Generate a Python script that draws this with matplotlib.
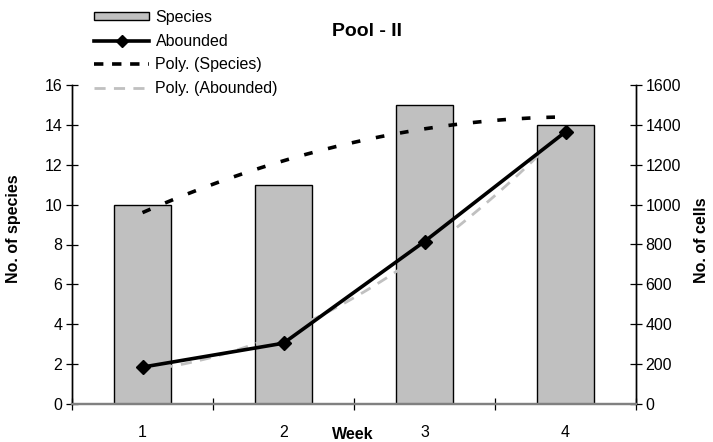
import numpy as np
import matplotlib.pyplot as plt
from matplotlib.patches import Rectangle
from matplotlib.lines import Line2D

plt.rcParams['font.family'] = ['Liberation Sans', 'DejaVu Sans']

weeks = ["1", "2", "3", "4"]
species = [10, 11, 15, 14]
abounded = [185, 305, 815, 1365]
species_ticks = [0, 2, 4, 6, 8, 10, 12, 14, 16]
cells_ticks = [0, 200, 400, 600, 800, 1000, 1200, 1400, 1600]

x = np.arange(1, len(weeks) + 1)

# second-order polynomial trendlines
xs = np.linspace(1, len(weeks), 200)
poly_species = np.polyval(np.polyfit(x, species, 2), xs)
poly_abounded = np.polyval(np.polyfit(x, abounded, 2), xs)

fig = plt.figure(figsize=(7.13, 4.42), dpi=100)
ax = fig.add_axes([72 / 713, 1 - 404 / 442, 564 / 713, 319 / 442])
ax2 = ax.twinx()

fs = 11.5
ax.bar(x, species, width=0.4, color='#c0c0c0', edgecolor='black', linewidth=1.0, zorder=2)
ax.plot(xs, poly_species, color='black', linewidth=2.6, dashes=(2.4, 4.4), zorder=4)

ax2.plot(xs, poly_abounded, color='#c0c0c0', linewidth=2.0, dashes=(4, 3), zorder=2)
ax2.plot(x, abounded, color='black', linewidth=2.6, marker='D', markersize=7, zorder=3)

ax.set_xlim(0.5, 4.5)
ax.set_ylim(0, 16)
ax2.set_ylim(0, 1600)
ax.set_yticks(species_ticks)
ax2.set_yticks(cells_ticks)

ax.set_xticks(x)
ax.set_xticklabels(weeks, fontsize=fs)
ax.set_xticks(np.arange(0.5, 4.6, 1.0), minor=True)
ax.tick_params(axis='x', which='major', length=0, pad=15)
ax.tick_params(axis='x', which='minor', direction='inout', length=8, width=0.9)
ax.tick_params(axis='y', direction='inout', length=8, width=0.9, labelsize=fs, pad=3)
ax2.tick_params(axis='y', direction='inout', length=8, width=0.9, labelsize=fs, pad=3)

for a in (ax, ax2):
    a.spines['top'].set_visible(False)
    a.spines['bottom'].set_color('#808080')
    a.spines['bottom'].set_linewidth(1.6)
    a.spines['left'].set_linewidth(1.0)
    a.spines['right'].set_linewidth(1.0)
    a.patch.set_visible(False)

ax.set_xlabel('Week', fontsize=fs, fontweight='bold')
ax.xaxis.set_label_coords(0.497, -0.072)
ax.set_ylabel('No. of species', fontsize=fs, fontweight='bold')
ax.yaxis.set_label_coords(-0.09, 0.55)
ax2.set_ylabel('No. of cells', fontsize=fs, fontweight='bold')
ax2.yaxis.set_label_coords(1.103, 0.515)

fig.text(367 / 713, 1 - 32 / 442, 'Pool - II', fontsize=14, fontweight='bold',
         ha='center', va='center')

handles = [
    Rectangle((0, 0), 1, 1, facecolor='#c0c0c0', edgecolor='black', linewidth=1.0),
    Line2D([], [], color='black', linewidth=2.6, marker='D', markersize=6),
    Line2D([], [], color='black', linewidth=2.6, dashes=(2.6, 2.4)),
    Line2D([], [], color='#c0c0c0', linewidth=2.0, dashes=(4, 3)),
]
labels = ['Species', 'Abounded', 'Poly. (Species)', 'Poly. (Abounded)']
fig.legend(handles, labels, loc='upper left', bbox_to_anchor=(94 / 713, 1 - 10 / 442),
           frameon=False, fontsize=fs, handlelength=3.45, handleheight=0.4,
           handletextpad=0.4, labelspacing=0.54, borderaxespad=0, borderpad=0)

fig.savefig('out.png', dpi=100)
